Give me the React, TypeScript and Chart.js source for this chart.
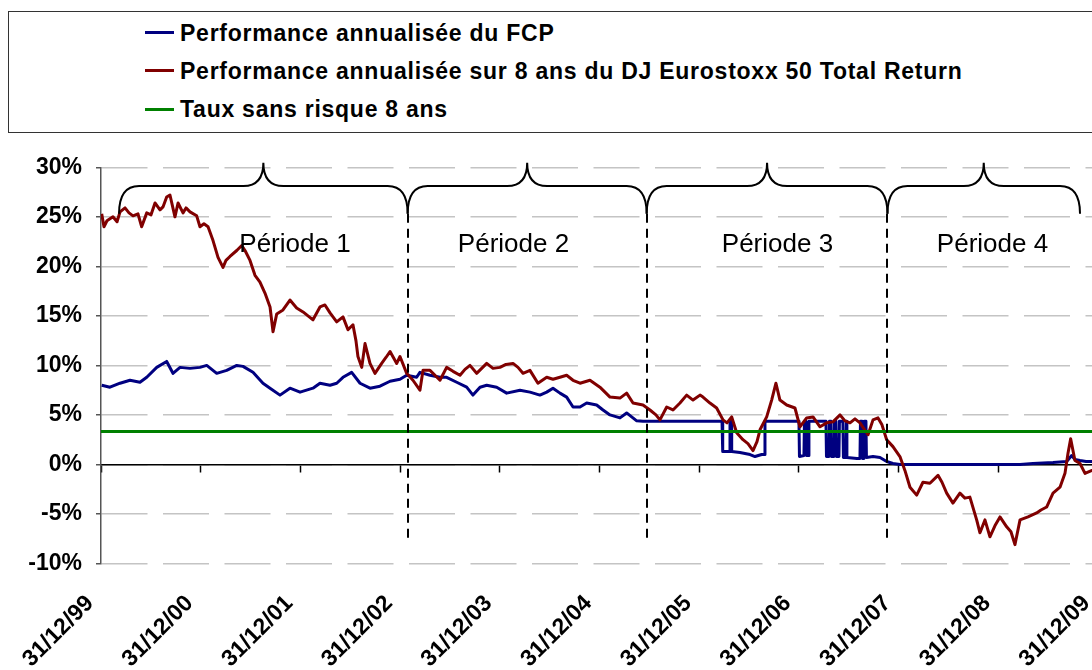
import React, { useEffect, useRef } from 'react';
import { Chart, registerables } from 'chart.js';

Chart.register(...registerables);

const FONT = "'Liberation Sans', Arial, Helvetica, sans-serif";

// x values are years elapsed since 31/12/1999
const xTickLabels = ['31/12/99', '31/12/00', '31/12/01', '31/12/02', '31/12/03', '31/12/04', '31/12/05', '31/12/06', '31/12/07', '31/12/08', '31/12/09'];

const seriesNames = [
  'Performance annualisée du FCP',
  'Performance annualisée sur 8 ans du DJ Eurostoxx 50 Total Return',
  'Taux sans risque 8 ans',
];
const seriesColors = ['#000080', '#800000', '#008000'];

const fcpX = [0.007, 0.090, 0.191, 0.291, 0.391, 0.459, 0.559, 0.659, 0.722, 0.793, 0.893, 0.993, 1.061, 1.161, 1.261, 1.362, 1.425, 1.525, 1.625, 1.696, 1.796, 1.896, 1.997, 2.127, 2.197, 2.298, 2.365, 2.428, 2.515, 2.599, 2.699, 2.799, 2.900, 3.000, 3.067, 3.167, 3.200, 3.301, 3.401, 3.468, 3.569, 3.669, 3.732, 3.803, 3.870, 3.970, 4.070, 4.204, 4.304, 4.404, 4.472, 4.535, 4.605, 4.672, 4.736, 4.806, 4.873, 4.973, 5.037, 5.107, 5.207, 5.274, 5.375, 5.438, 6.231, 6.238, 6.306, 6.311, 6.323, 6.328, 6.411, 6.512, 6.562, 6.629, 6.657, 6.662, 7.003, 7.008, 7.053, 7.058, 7.073, 7.078, 7.098, 7.103, 7.274, 7.279, 7.304, 7.309, 7.324, 7.329, 7.354, 7.359, 7.374, 7.379, 7.404, 7.409, 7.444, 7.449, 7.474, 7.479, 7.484, 7.585, 7.615, 7.620, 7.635, 7.640, 7.655, 7.660, 7.675, 7.680, 7.746, 7.816, 7.883, 7.946, 8.016, 9.221, 9.351, 9.552, 9.689, 9.739, 9.772, 9.823, 9.883, 9.943, 9.993];
const fcpY = [8.0, 7.8, 8.2, 8.5, 8.3, 8.8, 9.8, 10.4, 9.2, 9.8, 9.7, 9.8, 10.0, 9.2, 9.5, 10.0, 9.9, 9.3, 8.2, 7.7, 7.0, 7.7, 7.3, 7.7, 8.2, 8.0, 8.2, 8.8, 9.3, 8.2, 7.7, 7.9, 8.4, 8.6, 9.0, 8.8, 9.3, 9.0, 8.8, 8.8, 8.3, 7.8, 7.0, 7.8, 8.0, 7.8, 7.2, 7.5, 7.3, 7.0, 7.3, 7.7, 7.2, 6.8, 5.8, 5.8, 6.2, 6.0, 5.5, 5.0, 4.7, 5.2, 4.4, 4.35, 4.35, 1.3, 1.3, 4.35, 4.35, 1.3, 1.2, 1.0, 0.8, 1.0, 1.0, 4.35, 4.35, 0.8, 0.9, 4.35, 4.35, 0.9, 0.9, 4.35, 4.35, 0.8, 0.8, 4.35, 4.35, 0.8, 0.8, 4.35, 4.35, 0.8, 0.8, 4.35, 4.35, 0.7, 0.7, 4.35, 0.7, 0.6, 0.6, 4.35, 4.35, 0.6, 0.6, 4.35, 4.35, 0.7, 0.8, 0.7, 0.3, 0.1, 0.0, 0.0, 0.1, 0.2, 0.3, 0.9, 0.5, 0.4, 0.3, 0.3, 0.3];

const euroX = [0.007, 0.030, 0.060, 0.120, 0.161, 0.191, 0.241, 0.281, 0.321, 0.371, 0.408, 0.459, 0.502, 0.542, 0.592, 0.622, 0.659, 0.692, 0.742, 0.773, 0.823, 0.853, 0.893, 0.960, 0.993, 1.033, 1.074, 1.124, 1.174, 1.224, 1.254, 1.294, 1.362, 1.412, 1.445, 1.495, 1.545, 1.595, 1.645, 1.696, 1.726, 1.763, 1.826, 1.896, 1.963, 2.027, 2.077, 2.127, 2.197, 2.247, 2.298, 2.365, 2.428, 2.478, 2.528, 2.558, 2.578, 2.616, 2.649, 2.699, 2.749, 2.816, 2.859, 2.900, 2.967, 3.000, 3.067, 3.130, 3.200, 3.231, 3.301, 3.351, 3.401, 3.468, 3.532, 3.602, 3.652, 3.702, 3.769, 3.870, 3.933, 4.003, 4.063, 4.134, 4.184, 4.234, 4.304, 4.384, 4.472, 4.535, 4.605, 4.672, 4.736, 4.806, 4.906, 5.006, 5.107, 5.207, 5.274, 5.338, 5.438, 5.508, 5.568, 5.608, 5.676, 5.739, 5.809, 5.876, 5.940, 6.010, 6.040, 6.110, 6.177, 6.241, 6.281, 6.328, 6.378, 6.441, 6.491, 6.542, 6.582, 6.612, 6.679, 6.729, 6.772, 6.812, 6.880, 6.963, 7.013, 7.080, 7.144, 7.214, 7.281, 7.344, 7.415, 7.465, 7.515, 7.565, 7.615, 7.696, 7.746, 7.796, 7.836, 7.883, 7.946, 8.016, 8.066, 8.117, 8.184, 8.247, 8.317, 8.398, 8.438, 8.485, 8.548, 8.618, 8.668, 8.718, 8.786, 8.819, 8.869, 8.919, 8.969, 9.020, 9.087, 9.130, 9.170, 9.221, 9.301, 9.388, 9.431, 9.488, 9.552, 9.622, 9.672, 9.702, 9.729, 9.772, 9.823, 9.873, 9.943, 9.993];
const euroY = [25.3, 24.0, 24.6, 25.0, 24.5, 25.5, 25.9, 25.4, 25.1, 25.3, 24.0, 25.4, 25.2, 26.4, 25.7, 26.0, 27.0, 27.2, 25.0, 26.4, 25.4, 25.9, 25.5, 25.1, 24.0, 24.3, 24.0, 22.6, 20.9, 19.9, 20.6, 21.0, 21.6, 22.1, 21.6, 20.6, 19.1, 18.4, 17.3, 15.9, 13.4, 15.2, 15.6, 16.6, 15.8, 15.4, 15.0, 14.6, 15.9, 16.1, 15.3, 14.4, 14.9, 13.6, 14.1, 12.5, 10.9, 9.8, 12.2, 10.2, 9.2, 10.2, 10.8, 11.4, 10.2, 10.9, 9.2, 8.5, 7.5, 9.5, 9.5, 9.0, 8.5, 9.8, 9.4, 9.0, 9.6, 10.0, 9.2, 10.2, 9.7, 9.8, 10.1, 10.2, 9.8, 9.2, 9.5, 8.2, 8.8, 8.6, 8.8, 9.0, 8.5, 8.2, 8.5, 7.8, 6.8, 6.7, 7.2, 6.2, 6.0, 5.5, 5.0, 4.5, 5.8, 5.5, 6.2, 7.0, 6.5, 7.0, 6.8, 6.2, 5.7, 4.5, 4.2, 4.8, 3.2, 2.5, 2.1, 1.4, 2.3, 3.5, 4.8, 6.5, 8.2, 6.5, 6.0, 5.7, 3.8, 4.7, 4.8, 3.8, 4.2, 4.3, 5.0, 4.4, 4.2, 4.6, 4.2, 3.0, 4.5, 4.7, 4.0, 2.5, 1.8, 0.8, -0.6, -2.3, -3.1, -1.8, -1.9, -1.1, -1.8, -2.9, -3.9, -2.9, -3.4, -3.3, -5.6, -6.9, -5.6, -7.3, -6.2, -5.3, -6.3, -6.8, -8.1, -5.6, -5.3, -4.9, -4.6, -4.3, -2.9, -2.3, -0.9, 1.1, 2.6, 0.4, 0.1, -0.9, -0.6, -0.8];

const riskFreeX = [0, 10.2];
const riskFreeY = [3.33, 3.33];

// period annotations (x in years since 31/12/1999, y in %)
const periodBounds = [0.181, 3.077, 5.475, 7.891, 9.823];
const periodLabels = ['Période 1', 'Période 2', 'Période 3', 'Période 4'];
const periodLabelX = [1.946, 4.139, 6.787, 8.945];
const periodLabelY = 21.46;
const braceTipY = 30.45;
const braceBarY = 28.1;
const braceEndY = 25.3;
const dividerBottomY = -7.6;

const toPoints = (xs: number[], ys: number[]) => xs.map((x, i) => ({ x, y: ys[i] }));

const periodPlugin = {
  id: 'periods',
  afterDatasetsDraw(chart: any) {
    const { ctx } = chart;
    const x = chart.scales.x;
    const y = chart.scales.y;
    ctx.save();
    ctx.strokeStyle = '#000';
    ctx.lineWidth = 2;
    ctx.setLineDash([9, 6]);
    for (let i = 1; i < periodBounds.length - 1; i++) {
      const px = Math.round(x.getPixelForValue(periodBounds[i]));
      ctx.beginPath();
      ctx.moveTo(px, y.getPixelForValue(braceEndY));
      ctx.lineTo(px, y.getPixelForValue(dividerBottomY));
      ctx.stroke();
    }
    ctx.setLineDash([]);
    const yTip = y.getPixelForValue(braceTipY);
    const yBar = y.getPixelForValue(braceBarY);
    const yEnd = y.getPixelForValue(braceEndY);
    const r = 20;
    for (let i = 0; i < periodBounds.length - 1; i++) {
      const x0 = x.getPixelForValue(periodBounds[i]);
      const x1 = x.getPixelForValue(periodBounds[i + 1]);
      const xm = (x0 + x1) / 2;
      ctx.beginPath();
      ctx.moveTo(x0, yEnd);
      ctx.quadraticCurveTo(x0, yBar, x0 + r, yBar);
      ctx.lineTo(xm - r, yBar);
      ctx.quadraticCurveTo(xm, yBar, xm, yTip);
      ctx.quadraticCurveTo(xm, yBar, xm + r, yBar);
      ctx.lineTo(x1 - r, yBar);
      ctx.quadraticCurveTo(x1, yBar, x1, yEnd);
      ctx.stroke();
    }
    ctx.font = `26px ${FONT}`;
    ctx.fillStyle = '#000';
    ctx.textAlign = 'center';
    ctx.textBaseline = 'alphabetic';
    periodLabels.forEach((t, i) => {
      ctx.fillText(t, x.getPixelForValue(periodLabelX[i]), y.getPixelForValue(periodLabelY));
    });
    ctx.restore();
  },
};

const tickFont = { family: FONT, size: 23, weight: 'bold' as const };

export default function App() {
  const ref = useRef<HTMLCanvasElement>(null);

  useEffect(() => {
    const canvas = ref.current;
    if (!canvas) return;
    const chart = new Chart(canvas, {
      type: 'line',
      data: {
        datasets: [
          {
            label: seriesNames[0],
            data: toPoints(fcpX, fcpY),
            borderColor: seriesColors[0],
            backgroundColor: seriesColors[0],
            borderWidth: 3,
            pointRadius: 0,
            tension: 0,
            borderJoinStyle: 'round',
            order: 2,
          },
          {
            label: seriesNames[1],
            data: toPoints(euroX, euroY),
            borderColor: seriesColors[1],
            backgroundColor: seriesColors[1],
            borderWidth: 3,
            pointRadius: 0,
            tension: 0,
            borderJoinStyle: 'round',
            order: 1,
          },
          {
            label: seriesNames[2],
            data: toPoints(riskFreeX, riskFreeY),
            borderColor: seriesColors[2],
            backgroundColor: seriesColors[2],
            borderWidth: 3,
            pointRadius: 0,
            tension: 0,
            order: 0,
          },
        ],
      },
      options: {
        animation: false,
        responsive: false,
        devicePixelRatio: 1,
        layout: { padding: { top: 167.3, left: 0, right: 12.4, bottom: 0 } },
        plugins: { legend: { display: false }, tooltip: { enabled: false } },
        scales: {
          x: {
            type: 'linear',
            min: 0,
            max: 10.2,
            ticks: {
              stepSize: 1,
              includeBounds: false,
              autoSkip: false,
              minRotation: 45,
              maxRotation: 45,
              padding: 26.5,
              labelOffset: -11,
              color: '#000',
              font: tickFont,
              callback: (v: any) => xTickLabels[Math.round(Number(v))] ?? '',
            },
            grid: { display: false, drawTicks: false },
            border: { display: false },
            afterFit: (s: any) => {
              s.height = 106.5;
              s.paddingLeft = 0;
              s.paddingRight = 0;
            },
          },
          x0: {
            type: 'linear',
            axis: 'x',
            position: { y: 0 },
            min: 0,
            max: 10.2,
            ticks: { stepSize: 1, includeBounds: false, display: false },
            grid: { drawOnChartArea: false, drawTicks: true, tickLength: 7, tickColor: '#000', tickWidth: 1.5, color: '#000' },
            border: { display: true, color: '#000', width: 1.5 },
            afterFit: (s: any) => {
              s.paddingLeft = 0;
              s.paddingRight = 0;
            },
          },
          y: {
            min: -10,
            max: 30,
            ticks: {
              stepSize: 5,
              padding: 14,
              color: '#000',
              font: tickFont,
              callback: (v: any) => `${v}%`,
            },
            grid: { color: '#c4c4c4', lineWidth: 1.5, drawTicks: true, tickLength: 5, tickColor: '#555', tickWidth: 1.5 },
            border: { display: true, color: '#555', width: 1.5, dash: [46, 15.5] },
            afterFit: (s: any) => {
              s.width = 101;
            },
          },
        },
      } as any,
      plugins: [periodPlugin],
    });
    return () => chart.destroy();
  }, []);

  const rowCenters = [32.5, 70.8, 109];

  return (
    <div style={{ position: 'fixed', left: 0, top: 0, width: 1092, height: 670, overflow: 'hidden', background: '#fff' }}>
      <canvas ref={ref} width={1130} height={670} style={{ position: 'absolute', left: 0, top: 0 }} />
      <div
        style={{
          position: 'absolute',
          left: 8,
          top: 11,
          width: 1200,
          height: 122,
          border: '1px solid #333',
          boxSizing: 'border-box',
          background: '#fff',
        }}
      />
      {seriesNames.map((name, i) => (
        <div
          key={name}
          style={{
            position: 'absolute',
            left: 145,
            top: rowCenters[i] - 14,
            height: 28,
            display: 'flex',
            alignItems: 'center',
            whiteSpace: 'nowrap',
          }}
        >
          <span style={{ display: 'inline-block', width: 29, height: 3, background: seriesColors[i], marginRight: 6 }} />
          <span style={{ font: `bold 23px ${FONT}`, letterSpacing: '0.75px', lineHeight: '28px', color: '#000' }}>{name}</span>
        </div>
      ))}
    </div>
  );
}
